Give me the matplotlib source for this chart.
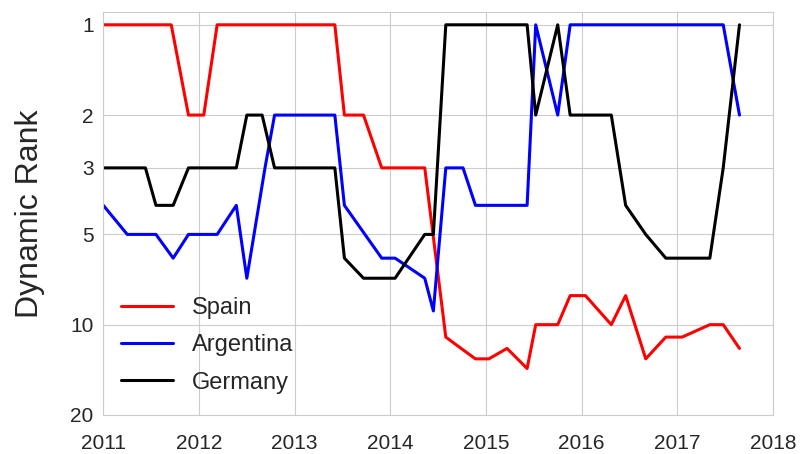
import matplotlib
matplotlib.use('Agg')
import matplotlib.pyplot as plt
import seaborn as sns
from matplotlib.ticker import FixedLocator, NullLocator

sns.set_style('whitegrid')
plt.rcParams['font.family'] = ['Liberation Sans', 'DejaVu Sans']

# dates as decimal years, ranks
spain_dates = [2011.00, 2011.71, 2011.89, 2012.05, 2012.19, 2013.42, 2013.52, 2013.72,
               2013.91, 2014.36, 2014.58, 2014.74, 2014.89, 2015.03, 2015.22, 2015.43,
               2015.52, 2015.75, 2015.88, 2016.04, 2016.31, 2016.46, 2016.67, 2016.88,
               2017.05, 2017.34, 2017.48, 2017.65]
spain_rank = [1, 1, 2, 2, 1, 1, 2, 2,
              3, 3, 11, 12, 13, 13, 12, 14,
              10, 10, 8, 8, 10, 8, 13, 11,
              11, 10, 10, 12]

argentina_dates = [2011.00, 2011.25, 2011.55, 2011.73, 2011.89, 2012.19, 2012.39, 2012.50,
                   2012.69, 2012.79, 2013.42, 2013.52, 2013.91, 2014.05, 2014.36, 2014.45,
                   2014.58, 2014.76, 2014.89, 2015.43, 2015.52, 2015.75, 2015.88, 2017.48,
                   2017.65]
argentina_rank = [4, 5, 5, 6, 5, 5, 4, 7,
                  3, 2, 2, 4, 6, 6, 7, 9,
                  3, 3, 4, 4, 1, 2, 1, 1,
                  2]

germany_dates = [2011.00, 2011.44, 2011.55, 2011.73, 2011.89, 2012.39, 2012.50, 2012.66,
                 2012.79, 2013.42, 2013.52, 2013.72, 2014.05, 2014.36, 2014.45, 2014.58,
                 2015.43, 2015.52, 2015.75, 2015.88, 2016.31, 2016.46, 2016.67, 2016.88,
                 2017.34, 2017.48, 2017.65]
germany_rank = [3, 3, 4, 4, 3, 3, 2, 2,
                3, 3, 6, 7, 7, 5, 5, 1,
                1, 2, 1, 2, 2, 4, 5, 6,
                6, 3, 1]

rank_ticks = [1, 2, 3, 5, 10, 20]
year_ticks = list(range(2011, 2019))

fig = plt.figure(figsize=(8.01, 4.54), dpi=100)
ax = fig.add_axes([0.129, 0.086, 0.836, 0.888])

ax.plot(spain_dates, spain_rank, color='red', lw=2.2, label='Spain')
ax.plot(argentina_dates, argentina_rank, color='blue', lw=2.2, label='Argentina')
ax.plot(germany_dates, germany_rank, color='black', lw=2.2, label='Germany')

ax.set_yscale('log')
ax.set_ylim(20, 0.905)
ax.yaxis.set_major_locator(FixedLocator(rank_ticks))
ax.yaxis.set_minor_locator(NullLocator())
ax.set_yticklabels([str(r) for r in rank_ticks])
ax.set_xlim(2011, 2018)
ax.set_xticks(year_ticks)
ax.set_xticklabels([str(y) for y in year_ticks])
ax.tick_params(labelsize=15, colors='.15')
ax.tick_params(axis='x', pad=10)

ax.set_ylabel('Dynamic Rank', fontsize=23, color='.15', labelpad=18)
ax.legend(loc='lower left', fontsize=17, frameon=False, handlelength=2.2,
          labelspacing=0.65, bbox_to_anchor=(-0.005, 0.0))

fig.savefig('out.png', dpi=100)
